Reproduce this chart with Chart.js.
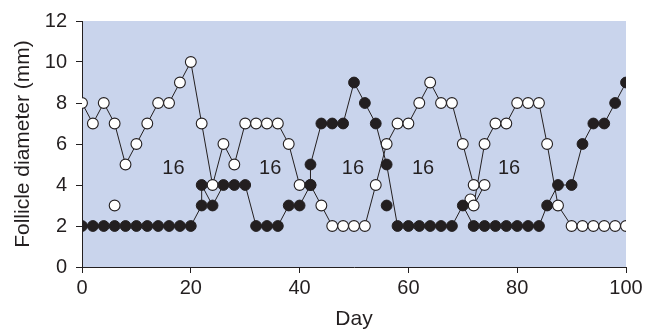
<!DOCTYPE html>
<html>
<head>
<meta charset="utf-8">
<script src="https://cdn.jsdelivr.net/npm/chart.js@4.4.0/dist/chart.umd.min.js"></script>
<style>
    html, body { margin: 0; padding: 0; background: #fff; }
</style>
</head>
<body>
<canvas id="follicleChart" width="651" height="335"></canvas>
<script>
// --- data (day, diameter in mm) ---
const openDays = [0, 2, 4, 6, 8, 10, 12, 14, 16, 18, 20,
    22, 24, 26, 28, 30, 32, 34, 36, 38, 40, 42, 44,
    46, 48, 50, 52,
    54, 56, 58, 60, 62, 64, 66, 68, 70, 72, 74,
    72, 74,
    76, 78, 80, 82, 84,
    85.5, 87.5,
    90, 92, 94, 96, 98, 100];
const openDiam = [8, 7, 8, 7, 5, 6, 7, 8, 8, 9, 10,
    7, 4, 6, 5, 7, 7, 7, 7, 6, 4, 4, 3,
    2, 2, 2, 2,
    4, 6, 7, 7, 8, 9, 8, 8, 6, 4, 4,
    3, 6,
    7, 7, 8, 8, 8,
    6, 3,
    2, 2, 2, 2, 2, 2];

const filledDays = [0, 2, 4, 6, 8, 10, 12, 14, 16, 18, 20,
    22, 22, 24, 26, 28, 30, 32, 34, 36, 38, 40, 42, 42, 44, 46, 48, 50, 52, 54, 56,
    58, 60, 62, 64, 66, 68, 70, 72, 74, 76, 78, 80, 82, 84,
    85.5, 87.5, 90, 92, 94, 96, 98, 100];
const filledDiam = [2, 2, 2, 2, 2, 2, 2, 2, 2, 2, 2,
    3, 4, 3, 4, 4, 4, 2, 2, 2, 3, 3, 4, 5, 7, 7, 7, 9, 8, 7, 5,
    2, 2, 2, 2, 2, 2, 3, 2, 2, 2, 2, 2, 2, 2,
    3, 4, 4, 6, 7, 7, 8, 9];

// single unconnected follicles
const strayOpenDays = [6, 71.4];
const strayOpenDiam = [3, 3.3];
const strayFilledDays = [56];
const strayFilledDiam = [3];

// "16" marks between waves
const gapDays = [16.8, 34.6, 49.8, 62.7, 78.5];
const gapLevel = 4.8;
const gapText = '16';

const xTicks = [0, 20, 40, 60, 80, 100];
const yTicks = [0, 2, 4, 6, 8, 10, 12];

const INK = '#231f20';
const PLOT_BG = '#c9d4ec';
const FONT = '"Liberation Sans", Arial, Helvetica, sans-serif';

function pairs(xs, ys) {
    return xs.map((x, i) => ({ x: x, y: ys[i] }));
}

// --- plugins ---
const plotBackground = {
    id: 'plotBackground',
    beforeDraw(chart) {
        const a = chart.chartArea;
        const ctx = chart.ctx;
        ctx.save();
        ctx.fillStyle = PLOT_BG;
        ctx.fillRect(a.left, a.top, a.right - a.left, a.bottom - a.top);
        ctx.restore();
    }
};

const gapLabels = {
    id: 'gapLabels',
    afterDatasetsDraw(chart) {
        const ctx = chart.ctx;
        const xs = chart.scales.x, ys = chart.scales.y;
        ctx.save();
        ctx.fillStyle = INK;
        ctx.font = '20px ' + FONT;
        ctx.textAlign = 'center';
        ctx.textBaseline = 'middle';
        gapDays.forEach(d => {
            ctx.fillText(gapText, xs.getPixelForValue(d), ys.getPixelForValue(gapLevel));
        });
        ctx.restore();
    }
};

const lineStyle = { showLine: true, pointRadius: 0, borderColor: INK, borderWidth: 1 };
const openMark = { showLine: false, pointRadius: 5.4, pointBackgroundColor: '#fff', pointBorderColor: INK, pointBorderWidth: 1.1 };
const filledMark = { showLine: false, pointRadius: 5.4, pointBackgroundColor: INK, pointBorderColor: INK, pointBorderWidth: 1 };

new Chart(document.getElementById('follicleChart'), {
    type: 'scatter',
    data: {
        datasets: [
            { ...lineStyle, data: pairs(openDays, openDiam), order: 6 },
            { ...lineStyle, data: pairs(filledDays, filledDiam), order: 5 },
            { ...openMark, data: pairs(openDays, openDiam), order: 3 },
            { ...openMark, data: pairs(strayOpenDays, strayOpenDiam), order: 3 },
            { ...filledMark, data: pairs(filledDays, filledDiam), order: 1 },
            { ...filledMark, data: pairs(strayFilledDays, strayFilledDiam), order: 1 }
        ]
    },
    options: {
        responsive: false,
        animation: false,
        events: [],
        layout: { padding: { top: 17, right: 25, left: 0, bottom: 0 } },
        plugins: { legend: { display: false }, tooltip: { enabled: false } },
        scales: {
            x: {
                type: 'linear',
                min: 0, max: 100,
                afterFit: s => { s.height = 68; },
                afterBuildTicks: s => { s.ticks = xTicks.map(v => ({ value: v })); },
                grid: { drawOnChartArea: false, drawTicks: true, tickLength: 6, color: INK, lineWidth: 1 },
                border: { display: true, color: INK, width: 1 },
                ticks: { color: INK, font: { family: FONT, size: 20 }, padding: 3, maxRotation: 0 },
                title: { display: true, text: 'Day', color: INK, font: { family: FONT, size: 21 }, padding: { top: 0, bottom: 3 } }
            },
            y: {
                type: 'linear',
                min: 0, max: 12,
                afterFit: s => { s.width = 82; },
                afterBuildTicks: s => { s.ticks = yTicks.map(v => ({ value: v })); },
                grid: { drawOnChartArea: false, drawTicks: true, tickLength: 6, color: INK, lineWidth: 1 },
                border: { display: true, color: INK, width: 1 },
                ticks: { color: INK, font: { family: FONT, size: 20 }, padding: 9 },
                title: { display: true, text: 'Follicle diameter (mm)', color: INK, font: { family: FONT, size: 21 }, padding: { top: 11, bottom: 0 } }
            }
        }
    },
    plugins: [plotBackground, gapLabels]
});
</script>
</body>
</html>
